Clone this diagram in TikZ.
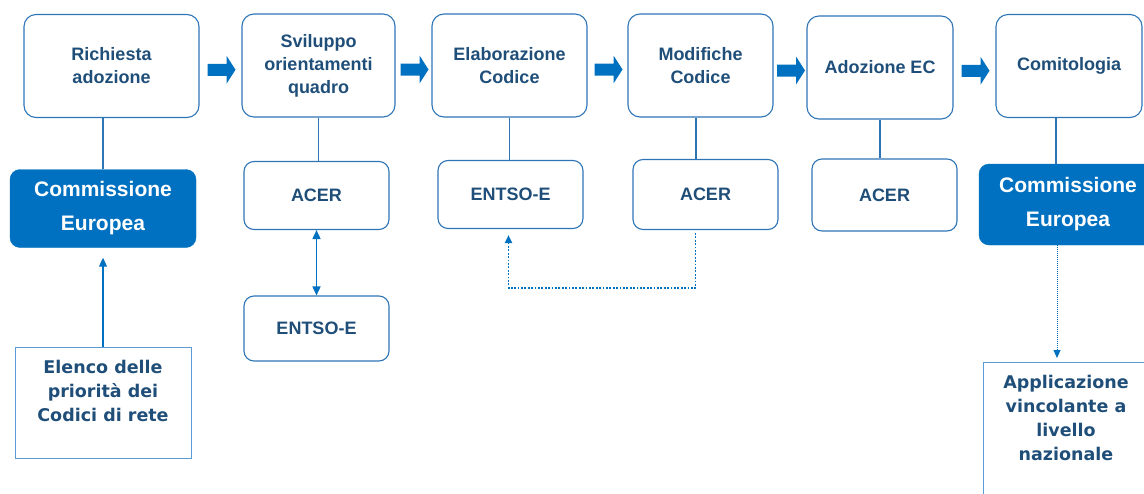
\documentclass[tikz,border=0pt]{standalone}
\usepackage{fontspec}
\setmainfont{Liberation Sans}
\newfontfamily\verdana{DejaVu Sans}
\usetikzlibrary{arrows.meta, calc}
\definecolor{blu}{HTML}{0070C0}
\definecolor{bordo}{HTML}{2E75B6}
\definecolor{testo}{HTML}{1F4E79}
\definecolor{chiaro}{HTML}{5B9BD5}
\tikzstyle{stage} = [rectangle, rounded corners=12pt, minimum height=103pt, align=center, draw=bordo, line width=1.1pt, text=testo, font=\bfseries\fontsize{18}{23}\selectfont]
\tikzstyle{actor} = [rectangle, rounded corners=10pt, minimum width=145pt, minimum height=68pt, align=center, draw=bordo, line width=1.1pt, text=testo, font=\bfseries\fontsize{18}{23}\selectfont]
\tikzstyle{ec} = [rectangle, rounded corners=10pt, minimum height=78pt, align=center, fill=blu, draw=blu, text=white, font=\bfseries\fontsize{21}{34}\selectfont]
\tikzstyle{doc} = [rectangle, anchor=north, inner xsep=8pt, inner ysep=13pt, draw=chiaro, line width=0.9pt, text=testo, font=\verdana\bfseries\fontsize{17.5}{24}\selectfont]
\tikzstyle{link} = [draw=bordo, line width=1.8pt]
\tikzstyle{arrow} = [draw=blu, line width=1.1pt, -{Triangle[length=9pt,width=8pt]}]
\tikzstyle{biarrow} = [draw=blu, line width=1.6pt, {Triangle[length=9pt,width=8pt]}-{Triangle[length=9pt,width=8pt]}]
\tikzstyle{dotarrow} = [draw=blu, line width=1.8pt, dash pattern=on 1.8pt off 1.6pt, -{Triangle[length=8pt,width=7pt]}]

\begin{document}
\begin{tikzpicture}[x=1pt, y=-1pt, node distance=129pt]
		\useasboundingbox (0,0) rectangle (1144,493);
		
		\node (rich) [stage, minimum width=175pt] at (111.5,66) {Richiesta\\adozione};
		\node (svil) [stage, minimum width=153pt] at (318.5,65.5) {Sviluppo\\orientamenti\\quadro};
		\node (elab) [stage, minimum width=155pt] at (509.5,65.5) {Elaborazione\\Codice};
		\node (modif) [stage, minimum width=145pt] at (700.5,65.5) {Modifiche\\Codice};
		\node (adoz) [stage, minimum width=146pt] at (880,67.5) {Adozione EC};
		\node (comit) [stage, minimum width=146pt] at (1069,66) {Comitologia};
		
		\node (ce1) [ec, minimum width=186pt, below of=rich, xshift=-8.5pt, yshift=-13.5pt] {Commissione\\Europea};
		\node (acer1) [actor, below of=svil, xshift=-2pt, yshift=-1pt] {ACER};
		\node (entso1) [actor, minimum height=65pt, below of=acer1, yshift=-4pt] {ENTSO-E};
		\node (entso2) [actor, below of=elab, xshift=1pt] {ENTSO-E};
		\node (acer2) [actor, minimum height=70pt, below of=modif, xshift=5pt] {ACER};
		\node (acer3) [actor, minimum height=72pt, below of=adoz, xshift=4.5pt, yshift=1.5pt] {ACER};
		\node (ce2) [ec, minimum width=178pt, minimum height=81pt, below of=comit, xshift=-1pt, yshift=-9.5pt] {Commissione\\Europea};
		
		\node (elenco) [doc] at (103,347) {\parbox[c][85pt][t]{160pt}{\centering Elenco delle\\priorità dei\\Codici di rete}};
		\node (appl) [doc] at (1066,362) {\parbox[c][120pt][t]{150pt}{\centering Applicazione\\vincolante a\\livello\\nazionale}};
		
		% frecce tra le fasi
		\foreach \a/\b in {rich/svil, svil/elab, elab/modif, modif/adoz, adoz/comit}
			\fill [blu] ($(\a.east)!0.5!(\b.west)$) ++(-13,-2) -- ++(19,0) -- ++(0,-8) -- ++(9,14) -- ++(-9,14) -- ++(0,-8) -- ++(-19,0) -- cycle;
		
		\draw [link] (ce1.north) -- (ce1.north |- rich.south);
		\draw [link] (svil.south) -- (svil.south |- acer1.north);
		\draw [link] (elab.south) -- (elab.south |- entso2.north);
		\draw [link] ([xshift=-4.5pt]modif.south) -- ([xshift=-4.5pt]modif.south |- acer2.north);
		\draw [link] (adoz.south) -- (adoz.south |- acer3.north);
		\draw [link] ([xshift=-13pt]comit.south) -- ([xshift=-13pt]comit.south |- ce2.north);
		
		\draw [biarrow] (acer1) -- (entso1);
		\draw [arrow, shorten >=10pt] (elenco.north) -- (ce1.south);
		\draw [dotarrow, shorten <=3pt, shorten >=6pt] ([xshift=-10pt]acer2.south) -- ++(0,58) -| ([xshift=-2pt]entso2.south);
		\draw [dotarrow, line width=0.9pt, dash pattern=on 1pt off 1pt, shorten >=4pt] ([xshift=-11pt]ce2.south) -- ([xshift=-11pt]ce2.south |- appl.north);
		
		\end{tikzpicture}
\end{document}
